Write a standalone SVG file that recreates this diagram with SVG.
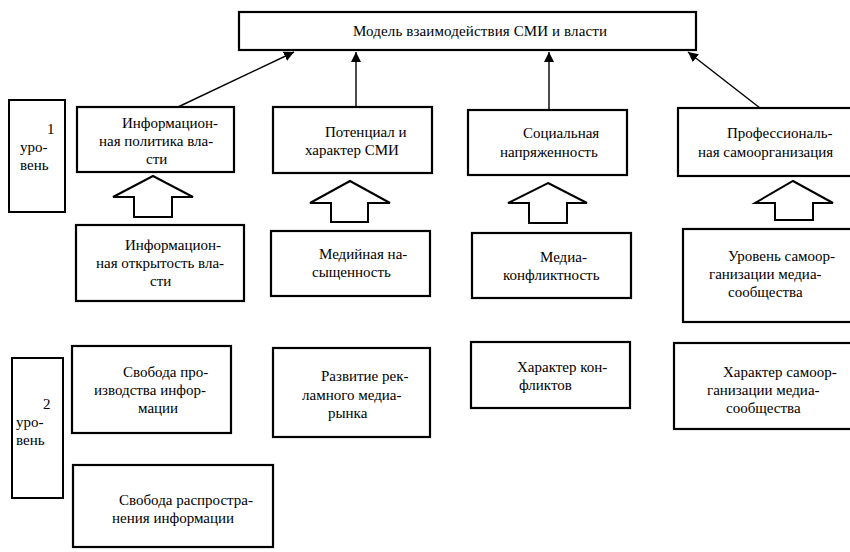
<svg xmlns="http://www.w3.org/2000/svg" width="850" height="552" viewBox="0 0 850 552">
<defs>
<style>
.box{fill:#fff;stroke:#000;stroke-width:2.2}
.lbl{fill:#fff;stroke:#000;stroke-width:2}
.t{font-family:"Liberation Serif","DejaVu Serif","Times New Roman",serif;font-size:15px;fill:#000}
.c{stroke:#000;stroke-width:1.4;fill:none}
.ba{fill:#fff;stroke:#000;stroke-width:2;stroke-linejoin:miter}
</style>
<marker id="ah" viewBox="0 0 10 10" refX="10" refY="5" markerWidth="10" markerHeight="10" markerUnits="userSpaceOnUse" orient="auto">
<path d="M0,0 L10,5 L0,10 z" fill="#000"/>
</marker>
</defs>
<rect width="850" height="552" fill="#fff"/>

<g id="title">
<rect class="box" x="239" y="12" width="457" height="38" stroke-width="2.6"/>
<text class="t" x="353" y="36" textLength="254" lengthAdjust="spacing">Модель взаимодействия СМИ и власти</text>
</g>

<g id="level1">
<rect class="lbl" x="9" y="100" width="56" height="112"/>
<text class="t" x="47" y="134">1</text>
<text class="t" x="20" y="152">уро-</text>
<text class="t" x="20" y="170">вень</text>
</g>

<g id="level2">
<rect class="lbl" x="12" y="358" width="51" height="140"/>
<text class="t" x="43" y="409">2</text>
<text class="t" x="16" y="427">уро-</text>
<text class="t" x="16" y="445">вень</text>
</g>

<g id="n1">
<rect class="box" x="77" y="107" width="157" height="65"/>
<text class="t" x="122" y="128">Информацион-</text>
<text class="t" x="99" y="146">ная политика вла-</text>
<text class="t" x="146" y="164">сти</text>
</g>
<g id="n2">
<rect class="box" x="273" y="107" width="159" height="66"/>
<text class="t" x="325" y="137">Потенциал и</text>
<text class="t" x="305" y="155">характер СМИ</text>
</g>
<g id="n3">
<rect class="box" x="468" y="110" width="159" height="65"/>
<text class="t" x="523" y="138">Социальная</text>
<text class="t" x="500" y="157">напряженность</text>
</g>
<g id="n4">
<rect class="box" x="678" y="108" width="180" height="68"/>
<text class="t" x="727" y="138">Профессиональ-</text>
<text class="t" x="698" y="157">ная самоорганизация</text>
</g>

<g id="n5">
<rect class="box" x="76" y="225" width="168" height="76"/>
<text class="t" x="125" y="250">Информацион-</text>
<text class="t" x="96" y="268">ная открытость вла-</text>
<text class="t" x="150" y="286">сти</text>
</g>
<g id="n6">
<rect class="box" x="271" y="231" width="159" height="65"/>
<text class="t" x="319" y="259">Медийная на-</text>
<text class="t" x="312" y="277">сыщенность</text>
</g>
<g id="n7">
<rect class="box" x="472" y="233" width="159" height="65"/>
<text class="t" x="540" y="262">Медиа-</text>
<text class="t" x="503" y="280">конфликтность</text>
</g>
<g id="n8">
<rect class="box" x="683" y="229" width="175" height="93"/>
<text class="t" x="728" y="261">Уровень самоор-</text>
<text class="t" x="709" y="279">ганизации медиа-</text>
<text class="t" x="728" y="297">сообщества</text>
</g>

<g id="n9">
<rect class="box" x="72" y="346" width="159" height="87"/>
<text class="t" x="123" y="377">Свобода про-</text>
<text class="t" x="94" y="395">изводства инфор-</text>
<text class="t" x="138" y="413">мации</text>
</g>
<g id="n10">
<rect class="box" x="273" y="348" width="157" height="89"/>
<text class="t" x="321" y="381">Развитие рек-</text>
<text class="t" x="302" y="400">ламного медиа-</text>
<text class="t" x="328" y="418">рынка</text>
</g>
<g id="n11">
<rect class="box" x="471" y="342" width="159" height="66"/>
<text class="t" x="517" y="372">Характер кон-</text>
<text class="t" x="519" y="390">фликтов</text>
</g>
<g id="n12">
<rect class="box" x="674" y="343" width="184" height="86"/>
<text class="t" x="723" y="377">Характер самоор-</text>
<text class="t" x="707" y="395">ганизации медиа-</text>
<text class="t" x="726" y="413">сообщества</text>
</g>
<g id="n13">
<rect class="box" x="73" y="465" width="200" height="82"/>
<text class="t" x="119" y="505">Свобода распростра-</text>
<text class="t" x="112" y="523">нения информации</text>
</g>

<g id="connectors">
<line class="c" x1="178" y1="107" x2="294" y2="52" marker-end="url(#ah)"/>
<line class="c" x1="356" y1="107" x2="356" y2="52" marker-end="url(#ah)"/>
<line class="c" x1="549" y1="110" x2="549" y2="52" marker-end="url(#ah)"/>
<line class="c" x1="760" y1="108" x2="688" y2="52" marker-end="url(#ah)"/>
<path class="ba" d="M153,176 L193,197 L172,197 L172,217 L134,217 L134,197 L113,197 Z"/>
<path class="ba" d="M350,181 L390,203 L368,203 L368,222 L331,222 L331,203 L310,203 Z"/>
<path class="ba" d="M548,183 L587,203 L567,203 L567,223 L529,223 L529,203 L508,203 Z"/>
<path class="ba" d="M793,181 L833,203 L813,203 L813,220 L775,220 L775,203 L755,203 Z"/>
</g>
</svg>
